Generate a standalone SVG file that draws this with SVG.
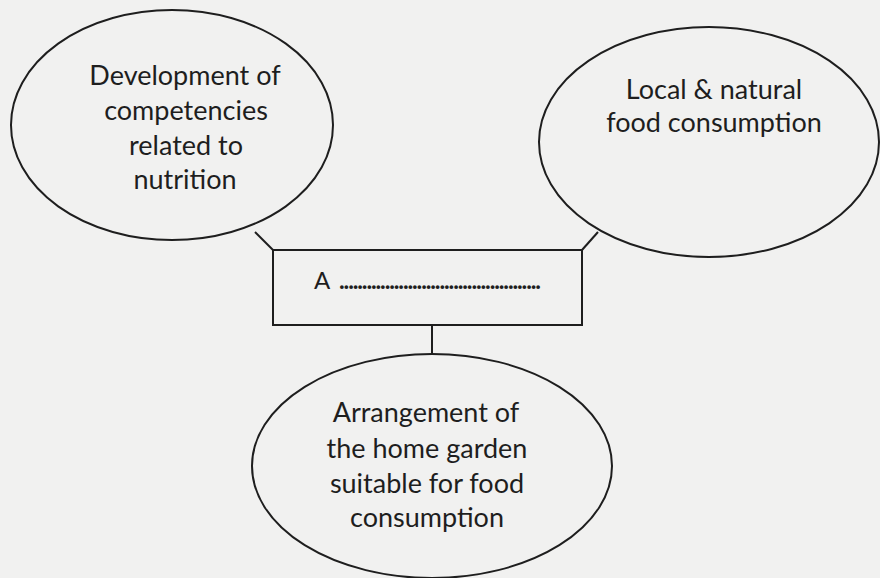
<svg xmlns="http://www.w3.org/2000/svg" width="880" height="578" viewBox="0 0 880 578">
<style>
.bg{fill:#f1f1f0}
.shape{fill:none;stroke:#1e1e1e;stroke-width:2}
.conn{fill:none;stroke:#1e1e1e;stroke-width:2}
.lbl{font-family:Lato,"Open Sans",sans-serif;font-size:27px;fill:#1e1e1e;text-anchor:middle}
</style>
<rect class="bg" x="0" y="0" width="880" height="578"/>
<g id="connectors">
<polyline class="conn" points="255,232 273,250"/>
<polyline class="conn" points="598,232 582,250"/>
<line class="conn" x1="432" y1="325" x2="432" y2="353"/>
</g>
<g id="node-competencies">
<ellipse class="shape" cx="172" cy="125" rx="161" ry="115"/>
<text class="lbl" x="185" y="85">Development of</text>
<text class="lbl" x="186" y="120">competencies</text>
<text class="lbl" x="186" y="155">related to</text>
<text class="lbl" x="185" y="189">nutrition</text>
</g>
<g id="node-local-food">
<ellipse class="shape" cx="709" cy="142" rx="170" ry="115"/>
<text class="lbl" x="714" y="99">Local &amp; natural</text>
<text class="lbl" x="714" y="132">food consumption</text>
</g>
<g id="node-A">
<rect class="shape" x="273" y="250" width="309" height="75"/>
<text x="314" y="289" font-family="Lato,sans-serif" font-size="24" fill="#1e1e1e">A</text>
<text x="339" y="289" font-family="Lato,sans-serif" font-size="24" font-weight="bold" fill="#1e1e1e" textLength="202" lengthAdjust="spacing">............................................</text>
</g>
<g id="node-home-garden">
<ellipse class="shape" cx="432" cy="466" rx="180" ry="112"/>
<text class="lbl" x="426" y="422">Arrangement of</text>
<text class="lbl" x="427" y="458">the home garden</text>
<text class="lbl" x="427" y="493">suitable for food</text>
<text class="lbl" x="427" y="527">consumption</text>
</g>
</svg>
